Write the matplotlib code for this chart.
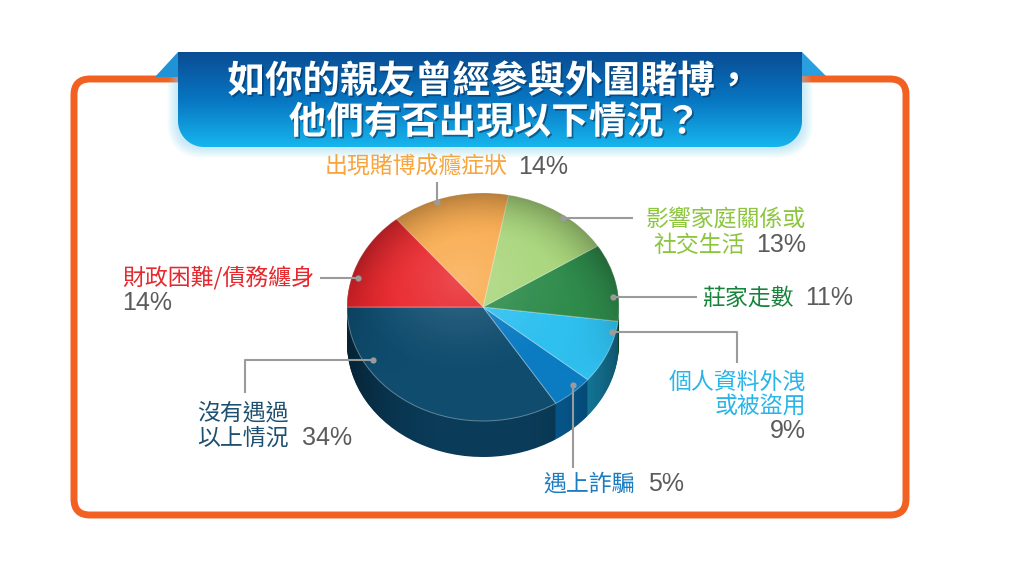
import matplotlib
matplotlib.use('Agg')
import matplotlib.pyplot as plt
import matplotlib.patheffects as pe
from matplotlib.patches import FancyBboxPatch, PathPatch, Polygon, Circle
from matplotlib.path import Path
import numpy as np

plt.rcParams['font.family'] = ['Noto Sans CJK TC', 'DejaVu Sans']

# ---- data (counter-clockwise from 9 o'clock) ----
categories = ['沒有遇過以上情況', '遇上詐騙', '個人資料外洩或被盜用', '莊家走數',
              '影響家庭關係或社交生活', '出現賭博成癮症狀', '財政困難/債務纏身']
values = [34, 5, 9, 11, 13, 14, 14]
pct_labels = ['34%', '5%', '9%', '11%', '13%', '14%', '14%']

title_lines = ['如你的親友曾經參與外圍賭博，', '他們有否出現以下情況？']

# ---- styles ----
top_colors = ['#0f4c6e', '#0b7bc2', '#2fc0f0', '#2f8c4c', '#a9d67c', '#f9ab4e', '#e8262c']
side_colors = ['#0b3f5e', '#07609a', '#1a98c4', '#1c7038', '#7bbd48', '#e08a2a', '#b81d22']
text_colors = ['#1d5070', '#1b7cc1', '#2ab5e8', '#17843b', '#8cc63f', '#f7a53c', '#e52a2f']
pct_color = '#5b5b5b'
line_color = '#9b9b9b'

W, H = 1024, 581
fig = plt.figure(figsize=(W / 100, H / 100), dpi=100)

# background axes in pixel coordinates
ax_bg = fig.add_axes([0, 0, 1, 1])
ax_bg.set_xlim(0, W)
ax_bg.set_ylim(H, 0)
ax_bg.axis('off')

# orange frame
frame = FancyBboxPatch((74, 79), 832, 436, boxstyle='round,pad=0,rounding_size=16',
                       ec='#f26122', fc='white', lw=5, zorder=1)
ax_bg.add_patch(frame)

# banner
bx0, bx1, by0, by1, br = 178, 802, 52, 147, 26
for k in range(1, 12):
    ax_bg.add_patch(FancyBboxPatch((bx0 - k, by0 + 4), bx1 - bx0 + 2 * k, by1 - by0 - 4 + k,
                                   boxstyle='round,pad=0,rounding_size=%d' % (br + k),
                                   fc='#8fd8f8', ec='none', alpha=0.05, zorder=2))
ax_bg.add_patch(Polygon([(155, 77), (bx0, by0), (bx0, 77)], closed=True,
                        fc='#1f93d6', ec='none', zorder=3))
ax_bg.add_patch(Polygon([(bx1, by0), (826, 76), (bx1, 76)], closed=True,
                        fc='#2a9fe0', ec='none', zorder=3))

t = np.linspace(0, np.pi / 2, 20)
verts = [(bx0, by0), (bx1, by0)]
verts += list(zip(bx1 - br + br * np.cos(t), by1 - br + br * np.sin(t)))
verts += list(zip(bx0 + br - br * np.sin(t), by1 - br + br * np.cos(t)))
verts.append((bx0, by0))
banner_path = Path(verts, closed=True)
banner_patch = PathPatch(banner_path, fc='none', ec='none', transform=ax_bg.transData)
ax_bg.add_patch(banner_patch)

c_top = np.array([0.04, 0.30, 0.58])
c_mid = np.array([0.03, 0.46, 0.76])
c_bot = np.array([0.09, 0.71, 0.93])
s = np.linspace(0, 1, 200)[:, None]
grad = np.where(s < 0.5, c_top + (c_mid - c_top) * (s / 0.5),
                c_mid + (c_bot - c_mid) * ((s - 0.5) / 0.5))
grad = np.repeat(grad[:, None, :], 2, axis=1)
im = ax_bg.imshow(grad, extent=[bx0, bx1, by1, by0], aspect='auto', zorder=4,
                  interpolation='bilinear')
im.set_clip_path(banner_patch)

for i, (line, y) in enumerate(zip(title_lines, [81, 122])):
    x = 490 if i == 0 else 495
    ax_bg.text(x, y, line, color='white', fontsize=27, fontweight='bold',
               ha='center', va='center', zorder=5,
               path_effects=[pe.withSimplePatchShadow(offset=(1.2, -1.2),
                                                      shadow_rgbFace='#05305a', alpha=0.6)])

ax_bg.set_xlim(0, W)
ax_bg.set_ylim(H, 0)

# ---- pie axes (unit x = 136 px, unit y = 114 px) ----
cx, cy, rx, ry = 483, H - 307, 136, 114
xl, yl = (-1.6, 1.6), (-1.8, 1.4)
ax = fig.add_axes([(cx + xl[0] * rx) / W, (cy + yl[0] * ry) / H,
                   (xl[1] - xl[0]) * rx / W, (yl[1] - yl[0]) * ry / H])
depth = 36 / ry
n_layers = 40
for i in range(n_layers, 0, -1):
    ax.pie(values, colors=side_colors, startangle=180, counterclock=True,
           center=(0, -depth * i / n_layers), radius=1, frame=False,
           wedgeprops=dict(linewidth=0))

# side shading
ang = np.linspace(np.pi, 2 * np.pi, 120)
side_v = list(zip(np.cos(ang), np.sin(ang))) + list(zip(np.cos(ang[::-1]), np.sin(ang[::-1]) - depth))
side_patch = PathPatch(Path(side_v, closed=True), fc='none', ec='none', transform=ax.transData)
ax.add_patch(side_patch)
gx = np.linspace(-1, 1, 300)
side_img = np.zeros((2, 300, 4))
side_img[..., 3] = 0.05 + 0.4 * np.abs(gx) ** 3
sim = ax.imshow(side_img, extent=[-1, 1, -1 - depth, 0], aspect='auto', zorder=3)
sim.set_clip_path(side_patch)

# top face
ax.pie(values, colors=top_colors, startangle=180, counterclock=True,
       center=(0, 0), radius=1, frame=False,
       wedgeprops=dict(linewidth=0.7, edgecolor=(1, 1, 1, 0.35)))
for w in ax.patches[-len(values):]:
    w.set_zorder(4)

gg = np.linspace(-1, 1, 300)
GX, GY = np.meshgrid(gg, gg[::-1])
R = np.sqrt(GX ** 2 + GY ** 2)
top_img = np.zeros((300, 300, 4))
top_img[..., 3] = 0.26 * np.clip((R - 0.6) / 0.4, 0, 1) ** 1.8 * np.clip(0.6 + GY, 0, 1)
top_clip = Circle((0, 0), 1, transform=ax.transData, fc='none', ec='none')
ax.add_patch(top_clip)
tim = ax.imshow(top_img, extent=[-1, 1, -1, 1], aspect='auto', zorder=5)
tim.set_clip_path(top_clip)
hl = np.ones((300, 300, 4))
RH = np.sqrt((GX + 0.15) ** 2 + (GY - 0.25) ** 2)
hl[..., 3] = 0.18 * np.clip(1 - RH / 0.9, 0, 1) ** 1.5
him = ax.imshow(hl, extent=[-1, 1, -1, 1], aspect='auto', zorder=5)
him.set_clip_path(top_clip)

ax.set_aspect('auto')
ax.set_xlim(*xl)
ax.set_ylim(*yl)
ax.axis('off')

# ---- overlay axes for leaders and labels ----
ax_top = fig.add_axes([0, 0, 1, 1])
ax_top.set_xlim(0, W)
ax_top.set_ylim(H, 0)
ax_top.axis('off')
ax_top.patch.set_alpha(0)

leaders = [
    [(373, 360), (245, 360), (245, 393)],
    [(573, 385), (573, 468)],
    [(612, 332), (737, 332), (737, 363)],
    [(613, 297), (697, 297)],
    [(563, 218), (633, 218)],
    [(437, 202), (437, 182)],
    [(358, 278), (320, 278)],
]
for pts in leaders:
    xs, ys = zip(*pts)
    ax_top.plot(xs, ys, color=line_color, lw=1.5, solid_capstyle='butt')
    ax_top.plot(xs[0], ys[0], 'o', color=line_color, ms=4.5, mec='none')

fs = 16.5
label_font = dict(fontsize=fs, va='center')
pct_font = dict(fontsize=18, va='center', color=pct_color,
                family=['Liberation Sans', 'Noto Sans CJK TC'])

# 0 navy
ax_top.text(197, 413, '沒有遇過', color=text_colors[0], ha='left', **label_font)
ax_top.text(197, 438, '以上情況', color=text_colors[0], ha='left', **label_font)
ax_top.text(302, 438, pct_labels[0], ha='left', **pct_font)
# 1 blue
ax_top.text(543, 484, '遇上詐騙', color=text_colors[1], ha='left', **label_font)
ax_top.text(648, 484, pct_labels[1], ha='left', **pct_font)
# 2 light blue
ax_top.text(806, 382, '個人資料外洩', color=text_colors[2], ha='right', **label_font)
ax_top.text(806, 406, '或被盜用', color=text_colors[2], ha='right', **label_font)
ax_top.text(806, 431, pct_labels[2], ha='right', **pct_font)
# 3 dark green
ax_top.text(702, 298, '莊家走數', color=text_colors[3], ha='left', **label_font)
ax_top.text(853, 298, pct_labels[3], ha='right', **pct_font)
# 4 light green
ax_top.text(806, 220, '影響家庭關係或', color=text_colors[4], ha='right', **label_font)
ax_top.text(745, 245, '社交生活', color=text_colors[4], ha='right', **label_font)
ax_top.text(806, 245, pct_labels[4], ha='right', **pct_font)
# 5 orange
ax_top.text(325, 167, '出現賭博成癮症狀', color=text_colors[5], ha='left', **label_font)
ax_top.text(518, 167, pct_labels[5], ha='left', **pct_font)
# 6 red
ax_top.text(122, 278, '財政困難/債務纏身', color=text_colors[6], ha='left', **label_font)
ax_top.text(122, 303, pct_labels[6], ha='left', **pct_font)

fig.savefig('out.png', dpi=100)
